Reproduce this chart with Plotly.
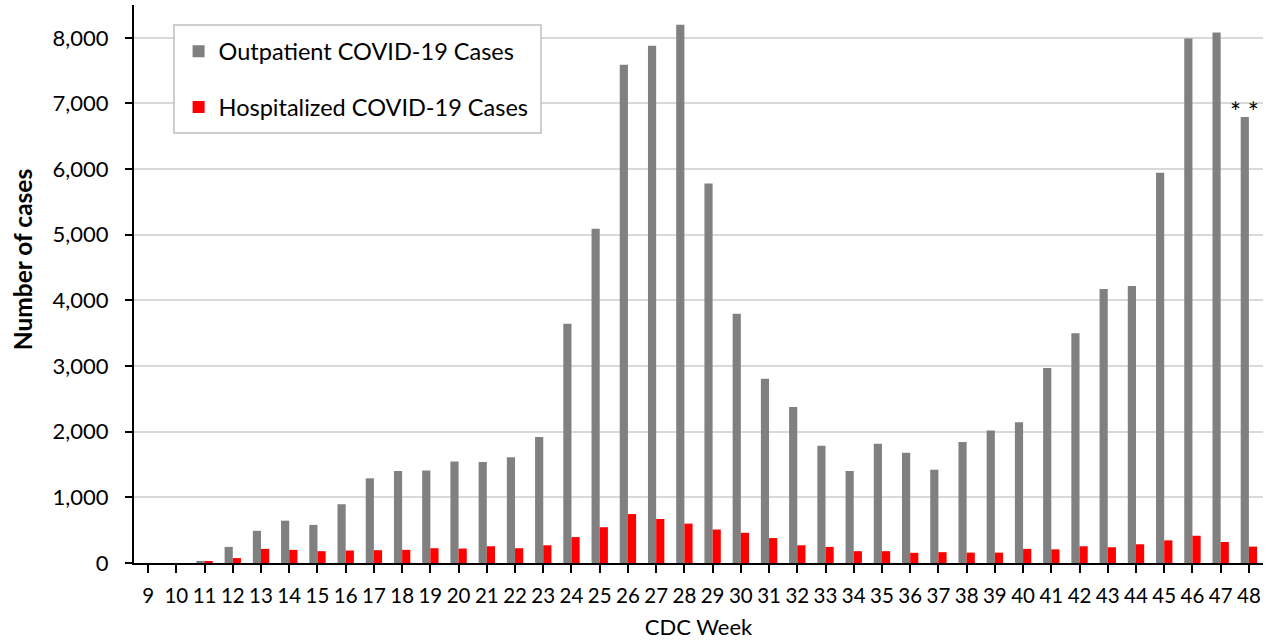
import plotly.graph_objects as go

weeks = [str(w) for w in range(9, 49)]
outpatient = [0, 0, 30, 245, 490, 645, 580, 895, 1290, 1400, 1410, 1545, 1540, 1610, 1920,
              3645, 5090, 7590, 7880, 8200, 5780, 3795, 2805, 2375, 1785, 1400, 1815, 1680,
              1420, 1845, 2020, 2145, 2970, 3500, 4175, 4220, 5945, 7990, 8080, 6795]
hospitalized = [0, 0, 20, 75, 215, 200, 180, 190, 195, 200, 225, 220, 255, 225, 270,
                395, 545, 745, 670, 600, 510, 460, 380, 270, 245, 180, 180, 155,
                165, 158, 158, 215, 208, 255, 240, 285, 345, 415, 320, 250]
ytick_vals = [0, 1000, 2000, 3000, 4000, 5000, 6000, 7000, 8000]

FONT = "Lato, Liberation Sans, sans-serif"

fig = go.Figure()
fig.add_trace(go.Bar(x=weeks, y=outpatient, name="Outpatient COVID-19 Cases",
                     marker=dict(color="#808080", line=dict(width=0)), legendgroup="a"))
fig.add_trace(go.Bar(x=weeks, y=hospitalized, name="Hospitalized COVID-19 Cases",
                     marker=dict(color="#ff0000", line=dict(width=0)), legendgroup="b"))

last = len(weeks) - 1
fig.add_annotation(x=last, y=outpatient[-1], xref="x", yref="y", text="* *", showarrow=False,
                   yshift=5, xshift=-4, yanchor="middle",
                   font=dict(family=FONT, size=26, color="black"))

# y-axis title (placed like the reference, slightly above plot centre)
fig.add_annotation(xref="paper", yref="paper", x=-0.099, y=0.543, text="<b>Number of cases</b>",
                   textangle=-90, showarrow=False, xanchor="center", yanchor="middle",
                   font=dict(family=FONT, size=24.5, color="black"))

# legend frame
fig.add_shape(type="rect", xref="paper", yref="paper",
              x0=0.0354, x1=0.3605, y0=0.7706, y1=0.9642,
              line=dict(color="#bfbfbf", width=1.5), fillcolor="white", layer="above")

fig.update_layout(
    width=1270, height=643,
    paper_bgcolor="white", plot_bgcolor="white",
    margin=dict(l=134, r=7, t=5, b=80),
    barmode="group", bargap=0.42, bargroupgap=0,
    font=dict(family=FONT, size=21, color="black"),
    showlegend=True,
    legend=dict(x=0.0395, y=0.956, xanchor="left", yanchor="top",
                bgcolor="rgba(0,0,0,0)", borderwidth=0,
                font=dict(family=FONT, size=23.5, color="black"),
                traceorder="grouped", tracegroupgap=22,
                itemwidth=30),
    xaxis=dict(
        title=dict(text="CDC Week", font=dict(family=FONT, size=22), standoff=14),
        type="category", showline=True, linecolor="black", linewidth=2,
        ticks="outside", ticklen=8, tickcolor="black", tickwidth=2,
        showgrid=False, tickfont=dict(size=20.5), tickangle=0, ticklabelstandoff=5,
        automargin=False, range=[-0.5, last + 0.5],
    ),
    yaxis=dict(
        range=[0, 8500], tickvals=ytick_vals,
        tickformat=",d", showline=True, linecolor="black", linewidth=2,
        ticks="outside", ticklen=7, tickcolor="black", tickwidth=2, ticklabelstandoff=12,
        showgrid=True, gridcolor="#d9d9d9", gridwidth=1.5, zeroline=False,
        tickfont=dict(size=22), automargin=False,
    ),
)

fig.write_html("out.html", config={"displayModeBar": False},
               post_script="document.body.style.margin='0';document.body.style.padding='0';document.body.style.overflow='hidden';")
